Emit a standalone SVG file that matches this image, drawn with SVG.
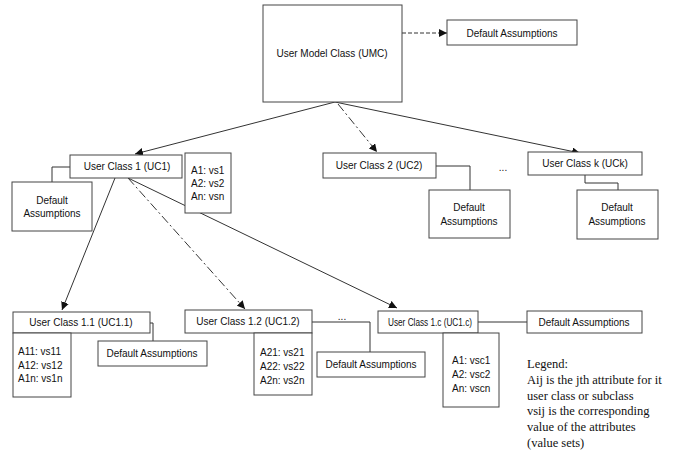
<svg xmlns="http://www.w3.org/2000/svg" width="676" height="450" viewBox="0 0 676 450">
<style>
.box{fill:#fff;stroke:#444;stroke-width:1}
.t{font-family:"Liberation Sans",Arial,sans-serif;font-size:10px;fill:#111}
.c{text-anchor:middle}
.ln{fill:none;stroke:#333;stroke-width:1}
.dd{stroke-dasharray:9,3,2,3}
.ds{stroke-dasharray:4,2}
.lg{font-family:"Liberation Serif","Times New Roman",serif;font-size:12.5px;fill:#111}
</style>
<defs>
<marker id="ah" viewBox="0 0 10 10" refX="10" refY="5" markerWidth="8" markerHeight="8" markerUnits="userSpaceOnUse" orient="auto">
<path d="M0,0 L10,5 L0,10 z" fill="#111"/>
</marker>
</defs>
<rect width="676" height="450" fill="#fff"/>
<g id="connectors">
<line class="ln ds" x1="402" y1="33" x2="447" y2="33" marker-end="url(#ah)"/>
<line class="ln" x1="335" y1="102" x2="135" y2="154" marker-end="url(#ah)"/>
<line class="ln dd" x1="338" y1="104" x2="377" y2="152" marker-end="url(#ah)"/>
<line class="ln" x1="335" y1="102" x2="580" y2="153" marker-end="url(#ah)"/>
<polyline class="ln" points="70,167 52,167 52,182"/>
<polyline class="ln" points="436,166 470,166 470,190"/>
<polyline class="ln" points="585,175 585,183 618,183 618,190"/>
<line class="ln" x1="115" y1="178" x2="62" y2="310" marker-end="url(#ah)"/>
<line class="ln dd" x1="128" y1="178" x2="245" y2="309" marker-end="url(#ah)"/>
<line class="ln" x1="128" y1="178" x2="397" y2="308" marker-end="url(#ah)"/>
<polyline class="ln" points="150,323 153,323 153,341"/>
<polyline class="ln" points="312,322 370,322 370,352"/>
<line class="ln" x1="478" y1="322" x2="527" y2="322"/>
</g>
<g id="umc">
<rect class="box" x="263" y="5" width="139" height="97"/>
<text class="t c" x="332" y="57">User Model Class (UMC)</text>
</g>
<g id="umc-default">
<rect class="box" x="447" y="20" width="130" height="25"/>
<text class="t c" x="512" y="37">Default Assumptions</text>
</g>
<g id="uc1">
<rect class="box" x="70" y="155" width="112" height="23"/>
<text class="t c" x="127" y="170">User Class 1 (UC1)</text>
</g>
<g id="uc1-attrs">
<rect class="box" x="185" y="153" width="46" height="60"/>
<text class="t" x="191" y="174">A1: vs1</text>
<text class="t" x="191" y="187">A2: vs2</text>
<text class="t" x="191" y="200">An: vsn</text>
</g>
<g id="uc1-default">
<rect class="box" x="12" y="182" width="80" height="49"/>
<text class="t c" x="52" y="204">Default</text>
<text class="t c" x="52" y="217">Assumptions</text>
</g>
<g id="uc2">
<rect class="box" x="323" y="153" width="113" height="25"/>
<text class="t c" x="379" y="169">User Class 2 (UC2)</text>
</g>
<g id="uc2-default">
<rect class="box" x="429" y="190" width="81" height="48"/>
<text class="t c" x="469" y="211">Default</text>
<text class="t c" x="469" y="225">Assumptions</text>
</g>
<g id="dots1"><text class="t c" x="503" y="171">...</text></g>
<g id="uck">
<rect class="box" x="528" y="152" width="114" height="23"/>
<text class="t c" x="585" y="167">User Class k (UCk)</text>
</g>
<g id="uck-default">
<rect class="box" x="577" y="190" width="81" height="49"/>
<text class="t c" x="617" y="211">Default</text>
<text class="t c" x="617" y="225">Assumptions</text>
</g>
<g id="uc11">
<rect class="box" x="13" y="312" width="137" height="21"/>
<text class="t c" x="81" y="326">User Class 1.1 (UC1.1)</text>
</g>
<g id="uc11-attrs">
<rect class="box" x="13" y="333" width="58" height="64"/>
<text class="t" x="18" y="355">A11: vs11</text>
<text class="t" x="18" y="369">A12: vs12</text>
<text class="t" x="18" y="382">A1n: vs1n</text>
</g>
<g id="uc11-default">
<rect class="box" x="98" y="341" width="109" height="25"/>
<text class="t c" x="152" y="357">Default Assumptions</text>
</g>
<g id="uc12">
<rect class="box" x="185" y="310" width="127" height="23"/>
<text class="t c" x="248" y="325">User Class 1.2 (UC1.2)</text>
</g>
<g id="uc12-attrs">
<rect class="box" x="254" y="333" width="58" height="62"/>
<text class="t" x="260" y="356">A21: vs21</text>
<text class="t" x="260" y="370">A22: vs22</text>
<text class="t" x="260" y="384">A2n: vs2n</text>
</g>
<g id="dots2"><text class="t c" x="342" y="320">...</text></g>
<g id="uc12-default">
<rect class="box" x="317" y="352" width="108" height="25"/>
<text class="t c" x="371" y="368">Default Assumptions</text>
</g>
<g id="uc1c">
<rect class="box" x="378" y="311" width="100" height="22"/>
<text class="t c" x="430" y="326" textLength="84" lengthAdjust="spacingAndGlyphs">User Class 1.c (UC1.c)</text>
</g>
<g id="uc1c-attrs">
<rect class="box" x="443" y="333" width="56" height="74"/>
<text class="t" x="452" y="364">A1: vsc1</text>
<text class="t" x="452" y="378">A2: vsc2</text>
<text class="t" x="452" y="392">An: vscn</text>
</g>
<g id="uc1c-default">
<rect class="box" x="527" y="311" width="115" height="22"/>
<text class="t c" x="584" y="326">Default Assumptions</text>
</g>
<g id="legend">
<text class="lg" x="527" y="368">Legend:</text>
<text class="lg" x="527" y="384">Aij is the jth attribute for it</text>
<text class="lg" x="527" y="400">user class or subclass</text>
<text class="lg" x="527" y="415">vsij is the corresponding</text>
<text class="lg" x="527" y="431">value of the attributes</text>
<text class="lg" x="527" y="447">(value sets)</text>
</g>
</svg>
